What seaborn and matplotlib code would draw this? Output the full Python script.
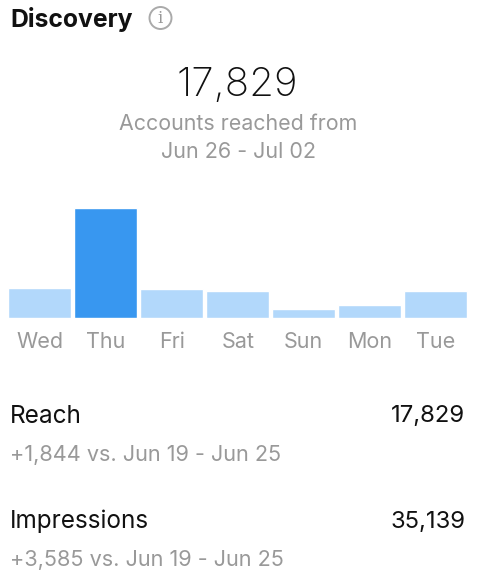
# Instagram style "Discovery" insights card.
import matplotlib
matplotlib.use("Agg")
import matplotlib.pyplot as plt
from matplotlib.patches import Circle
import pandas as pd
import seaborn as sns

days = ['Wed', 'Thu', 'Fri', 'Sat', 'Sun', 'Mon', 'Tue']
reach_by_day = [29.3, 109, 29, 26.7, 8.3, 12.7, 26.3]  # arbitrary units
highlight = 'Thu'

GREY = '#999999'
BLACK = '#111111'
W, H = 479, 575

sns.set_theme(style='white')
plt.rcParams['font.family'] = ['Inter', 'DejaVu Sans']

fig = plt.figure(figsize=(W / 100, H / 100), dpi=100)

# full figure overlay in pixel coords for the text
bg = fig.add_axes([0, 0, 1, 1])
bg.set_xlim(0, W)
bg.set_ylim(H, 0)
bg.axis('off')

df = pd.DataFrame({'day': days, 'reach': reach_by_day})
palette = {d: ('#3897f0' if d == highlight else '#b2d8fb') for d in days}

ax = fig.add_axes([6.6 / W, 1 - 317.7 / H, 462.4 / W, 109.5 / H])
sns.barplot(data=df, x='day', y='reach', hue='day', palette=palette, order=days,
            width=63 / 66, saturation=1, legend=False, ax=ax)
ax.set_xlim(-0.5, 6.5)
ax.set_ylim(0, max(reach_by_day))
ax.set_xlabel('')
ax.set_ylabel('')
ax.set_yticks([])
ax.tick_params(axis='x', length=0, pad=10.5, labelsize=15.5, labelcolor=GREY)
sns.despine(ax=ax, left=True, bottom=True)
ax.patch.set_alpha(0)

# header
bg.text(10, 19, 'Discovery', fontsize=17.8, fontweight='bold', color=BLACK, va='center', ha='left')
bg.add_patch(Circle((160.5, 18), 11, fill=False, ec='#aaaaaa', lw=1.4))
bg.text(160.5, 18.5, 'i', fontsize=12, family='DejaVu Serif', color='#999999', ha='center', va='center')

# big number
bg.text(237, 86, '17,829', fontsize=29, fontweight='light', color=BLACK, ha='center', va='center')
bg.text(238.5, 123.5, 'Accounts reached from', fontsize=15.4, color=GREY, ha='center', va='center')
bg.text(238.5, 151.5, 'Jun 26 - Jul 02', fontsize=15.5, color=GREY, ha='center', va='center')

# rows below the chart
bg.text(10, 416.5, 'Reach', fontsize=17.5, color=BLACK, ha='left', va='center')
bg.text(465.5, 416.5, '17,829', fontsize=17.2, color=BLACK, ha='right', va='center')
bg.text(10, 455, '+1,844 vs. Jun 19 - Jun 25', fontsize=15.6, color=GREY, ha='left', va='center')
bg.text(10, 521.5, 'Impressions', fontsize=17.5, color=BLACK, ha='left', va='center')
bg.text(465.5, 521.5, '35,139', fontsize=17.2, color=BLACK, ha='right', va='center')
bg.text(10, 559.5, '+3,585 vs. Jun 19 - Jun 25', fontsize=15.6, color=GREY, ha='left', va='center')

fig.savefig('out.png', dpi=100)
